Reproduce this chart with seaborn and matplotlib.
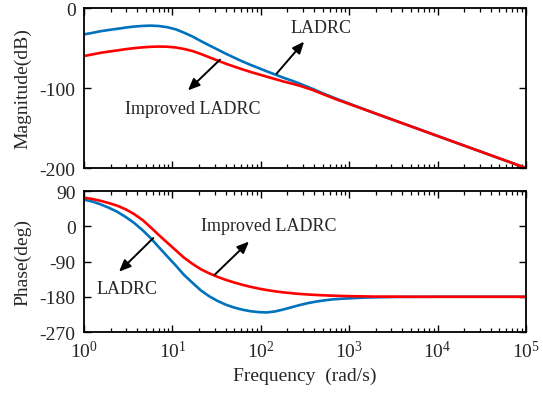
import matplotlib
matplotlib.use("Agg")
import numpy as np
import pandas as pd
import seaborn as sns
import matplotlib.pyplot as plt
from matplotlib.ticker import LogLocator, NullFormatter, FixedLocator

# ---- data ----
freq_mag = [1, 1.25, 1.54, 1.9, 2.38, 2.95, 3.67, 4.6, 5.67, 7, 8.76, 11, 13.5, 17, 20.9, 26, 32.3, 40,
            49.9, 62, 77, 96, 119, 148, 183, 230, 282, 380, 500, 700, 1000, 2000, 10000, 100000]
mag_ladrc = [-33, -31, -29, -27.5, -26, -24.5, -23.2, -22.4, -22, -22.5, -24, -26.8, -30.8, -35.8, -41.2, -46.6, -51.8, -57,
             -62, -66.8, -71.2, -75.4, -79.5, -83.5, -87.4, -91.2, -95, -100.8, -106.5, -113, -119.5, -132, -160, -200]
mag_improved = [-60, -58, -56, -54.5, -53, -51.5, -50.2, -49.2, -48.5, -48.2, -48.4, -49.4, -51.2, -53.9, -57.4, -61.5, -65.6, -69.5,
                -73.2, -76.7, -80, -83.1, -86.1, -89.1, -92, -94.8, -97.5, -102.2, -107.5, -113.8, -120, -132, -160, -200]

freq_ph_ladrc = [1, 1.25, 1.54, 1.9, 2.38, 2.95, 3.67, 4.6, 5.67, 7, 8.76, 11, 13.5, 17, 20.9, 26, 32.3, 40, 49.9,
                 62, 77, 96, 117, 145, 180, 225, 277, 345, 430, 530, 660, 820, 1020, 1500, 2400, 4000, 10000, 100000]
ph_ladrc = [68, 63, 56, 47.5, 37, 24, 9, -10, -30, -53, -77, -101, -124, -145, -163.5, -178.5, -190.5, -200, -207.5,
            -213, -217, -219.3, -220, -217.5, -212.5, -206.5, -201, -196, -192, -189, -186.5, -185, -184, -182, -181, -180.3, -180, -180]
freq_ph_improved = [1, 1.25, 1.54, 1.9, 2.38, 2.95, 3.67, 4.6, 5.67, 7, 8.76, 11, 13.5, 17, 20.9, 26, 32.3, 40,
                    49.9, 62, 77, 96, 120, 150, 180, 250, 330, 430, 600, 1020, 2000, 5000, 100000]
ph_improved = [73, 69.5, 65, 59.5, 52.5, 43.5, 31.5, 16, -2.5, -22, -42, -62, -80, -96.5, -109.5, -120, -129, -136.7,
               -143.5, -149.5, -154.8, -159.3, -163.3, -166.5, -168.8, -172, -174, -175.5, -177, -178.5, -179.5, -180, -180]

mag_ticks = [0, -100, -200]
phase_ticks = [90, 0, -90, -180, -270]

sns.set_theme(style="ticks")
plt.rcParams["font.family"] = ["Liberation Serif", "DejaVu Serif"]
plt.rcParams["mathtext.fontset"] = "custom"
plt.rcParams["mathtext.rm"] = "Liberation Serif"
plt.rcParams["mathtext.it"] = "Liberation Serif:italic"
plt.rcParams["axes.unicode_minus"] = False

BLUE = "#0072BD"
RED = "#FF0000"
FS = 14

fig = plt.figure(figsize=(5.43, 4.02), dpi=100)
ax1 = fig.add_axes([0.1547, 0.5796, 0.814, 0.398])
ax2 = fig.add_axes([0.1547, 0.1716, 0.814, 0.3507])

df_mag = pd.DataFrame({"f": freq_mag, "LADRC": mag_ladrc, "Improved": mag_improved})
sns.lineplot(data=df_mag, x="f", y="LADRC", ax=ax1, color=BLUE, lw=1.9)
sns.lineplot(data=df_mag, x="f", y="Improved", ax=ax1, color=RED, lw=1.9)

df_b = pd.DataFrame({"f": freq_ph_ladrc, "p": ph_ladrc})
df_r = pd.DataFrame({"f": freq_ph_improved, "p": ph_improved})
sns.lineplot(data=df_b, x="f", y="p", ax=ax2, color=BLUE, lw=1.9)
sns.lineplot(data=df_r, x="f", y="p", ax=ax2, color=RED, lw=1.9)

for ax in (ax1, ax2):
    ax.set_xscale("log")
    ax.set_xlim(1, 1e5)
    ax.xaxis.set_major_locator(LogLocator(base=10, numticks=10))
    ax.xaxis.set_minor_locator(LogLocator(base=10, subs=np.arange(2, 10), numticks=20))
    ax.xaxis.set_minor_formatter(NullFormatter())
    ax.tick_params(which="both", direction="in", top=True, right=True, labelsize=FS, color="black", pad=6)
    ax.tick_params(which="major", length=5, width=1.0)
    ax.tick_params(which="minor", length=3, width=0.9)
    for s in ax.spines.values():
        s.set_linewidth(1.3)
        s.set_color("black")
    ax.set_xlabel("")

ax1.set_ylim(-200, 0)
ax1.yaxis.set_major_locator(FixedLocator(mag_ticks))
ax1.tick_params(axis="x", labelbottom=False)
ax1.set_ylabel("Magnitude(dB)", fontsize=FS, labelpad=6)

ax2.set_ylim(-270, 90)
ax2.yaxis.set_major_locator(FixedLocator(phase_ticks))
ax2.set_ylabel("Phase(deg)", fontsize=FS, labelpad=6)
ax2.set_xlabel("Frequency  (rad/s)", fontsize=FS, labelpad=4)

ap = dict(arrowstyle="-|>,head_length=0.7,head_width=0.3", color="black", lw=1.4,
          shrinkA=0, shrinkB=0, mutation_scale=10)
TS = 13
# top annotations
ax1.text(480, -24, "LADRC", fontsize=TS, ha="center", va="center")
ax1.annotate("", xy=(309, -42), xytext=(151, -82), arrowprops=ap)
ax1.text(16.9, -125, "Improved LADRC", fontsize=TS, ha="center", va="center")
ax1.annotate("", xy=(15, -103), xytext=(34.5, -64.6), arrowprops=ap)
# bottom annotations
ax2.text(123, 2, "Improved LADRC", fontsize=TS, ha="center", va="center")
ax2.annotate("", xy=(73.5, -39), xytext=(30, -124), arrowprops=ap)
ax2.text(3.09, -159, "LADRC", fontsize=TS, ha="center", va="center")
ax2.annotate("", xy=(2.49, -116), xytext=(6.08, -30), arrowprops=ap)

fig.savefig("out.png", dpi=100)
